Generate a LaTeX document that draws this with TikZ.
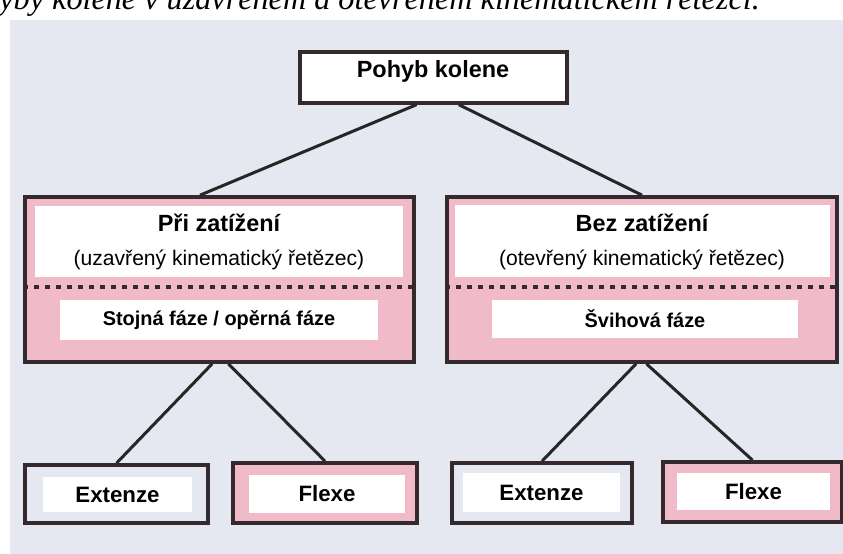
\documentclass[tikz,border=0pt]{standalone}
\usepackage{fontspec}
\setmainfont{Liberation Sans}
\newfontfamily\capfont{Liberation Serif}
\usetikzlibrary{positioning}
\definecolor{panel}{RGB}{229,232,240}
\definecolor{rose}{RGB}{240,186,200}
\definecolor{frame}{RGB}{52,42,45}

\begin{document}
\begin{tikzpicture}[x=0.3mm,y=-0.3mm]
      \tikzstyle{every node}=[inner sep=0pt]
      \tikzstyle{box}=[draw=frame,line width=1.1mm,rectangle]
      \tikzstyle{pane}=[fill=white,rectangle]
      \tikzstyle{head}=[font=\bfseries\fontsize{20}{24}\selectfont]
      \tikzstyle{sub}=[font=\fontsize{18}{22}\selectfont]
      \tikzstyle{phase}=[font=\bfseries\fontsize{17}{20}\selectfont]
      \tikzstyle{leaf}=[font=\bfseries\fontsize{19}{22}\selectfont]
      \tikzstyle{link}=[draw=black!85,line width=0.9mm]
      \tikzstyle{dots}=[draw=frame,line width=1mm,dash pattern=on 1.5mm off 1.8mm]

      \useasboundingbox (0,0) rectangle (843,554);
      \clip (0,0) rectangle (843,554);
      \fill[panel] (10,20) rectangle (843,554);
      \node[anchor=base east,font=\capfont\itshape\fontsize{27.5}{30}\selectfont] (cap) at (760,10) {yby kolene v uzavřeném a otevřeném kinematickém řetězci.};

      \node[box,fill=white,line width=1mm,minimum width=80.1mm,minimum height=15.3mm] (n1) at (433.5,77.5) {};
      \node[head] (t1) at (433,71) {Pohyb kolene};

      \node[box,fill=rose,minimum width=116.7mm,minimum height=49.5mm] (n2) at (219.5,279.5) {};
      \node[pane,minimum width=110.4mm,minimum height=21.3mm] (p2) at (219,241.5) {};
      \node[head] (t2) at (219,223) {Při zatížení};
      \node[sub] (s2) at (219,260) {(uzavřený kinematický řetězec)};
      \draw[dots] (n2.west |- 0,287) -- (n2.east |- 0,287);
      \node[pane,phase,minimum width=95.4mm,minimum height=12mm] (f2) at (219,320) {Stojná fáze / opěrná fáze};

      \node[box,fill=rose,minimum width=117mm,minimum height=49.5mm] (n3) at (642,279.5) {};
      \node[pane,minimum width=112.5mm,minimum height=21.6mm] (p3) at (642.5,241) {};
      \node[head] (t3) at (642,223) {Bez zatížení};
      \node[sub] (s3) at (642,260) {(otevřený kinematický řetězec)};
      \draw[dots] (n3.west |- 0,287) -- (n3.east |- 0,287);
      \node[pane,phase,minimum width=91.8mm,minimum height=11.4mm] (f3) at (645,319) {Švihová fáze};

      \node[box,fill=panel,minimum width=54.9mm,minimum height=17.4mm] (n4) at (116.5,494) {};
      \node[pane,leaf,minimum width=44.7mm,minimum height=10.5mm] (e4) at (117.5,495) {Extenze};
      \node[box,fill=rose,minimum width=55.2mm,minimum height=18mm] (n5) at (325,493) {};
      \node[pane,leaf,minimum width=46.8mm,minimum height=11.4mm] (e5) at (327,494) {Flexe};
      \node[box,fill=panel,minimum width=54mm,minimum height=18mm] (n6) at (542,493) {};
      \node[pane,leaf,minimum width=47.1mm,minimum height=11.7mm] (e6) at (541.5,492.5) {Extenze};
      \node[box,fill=rose,minimum width=53.7mm,minimum height=18mm] (n7) at (752.5,492) {};
      \node[pane,leaf,minimum width=45.9mm,minimum height=11.1mm] (e7) at (753.5,491.5) {Flexe};

      \draw[link] (n1.238) -- (n2.103);
      \draw[link] (n1.313) -- (n3.north);
      \draw[link] (n2.265.5) -- (n4.north);
      \draw[link] (n2.276) -- (n5.north);
      \draw[link] (n3.266.5) -- (n6.north);
      \draw[link] (n3.273) -- (n7.north);
    \end{tikzpicture}
\end{document}
